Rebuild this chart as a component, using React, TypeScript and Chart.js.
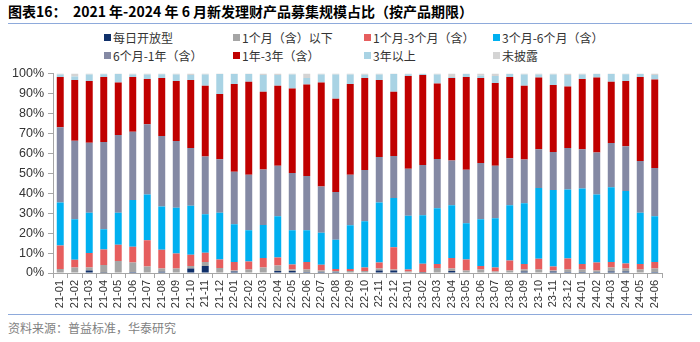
import React, { useEffect, useRef } from "react";
import { Chart, registerables } from "chart.js";

Chart.register(...registerables);

const categories = [
  "21-01", "21-02", "21-03", "21-04", "21-05", "21-06", "21-07", "21-08", "21-09", "21-10", "21-11", "21-12",
  "22-01", "22-02", "22-03", "22-04", "22-05", "22-06", "22-07", "22-08", "22-09", "22-10", "22-11", "22-12",
  "23-01", "23-02", "23-03", "23-04", "23-05", "23-06", "23-07", "23-08", "23-09", "23-10", "23-11", "23-12",
  "24-01", "24-02", "24-03", "24-04", "24-05", "24-06",
];

const seriesNames = [
  "每日开放型",
  "1个月（含）以下",
  "1个月-3个月（含）",
  "3个月-6个月（含）",
  "6个月-1年（含）",
  "1年-3年（含）",
  "3年以上",
  "未披露",
];

const dailyOpen = [
  0.3, 0.2, 1.3, 0.1, 0.3, 0.5, 0.2, 0.6, 0.3, 2.2, 3.5, 0.3,
  0.8, 0.3, 0.3, 1.0, 1.0, 0.5, 0.5, 0.5, 0.3, 0.3, 1.2, 1.2,
  0.2, 0.1, 0.3, 1.0, 0.3, 0.3, 0.2, 0.3, 0.7, 0.3, 0.7, 0.5,
  0.5, 0.5, 0.8, 0.8, 0.3, 0.5,
];
const upTo1M = [
  1.7, 2.5, 1.5, 3.9, 5.7, 4.8, 3.1, 1.7, 2.0, 1.3, 2.0, 2.2,
  0.5, 1.4, 2.5, 2.8, 0.8, 1.2, 0.8, 0.5, 0.7, 0.7, 1.0, 0.5,
  0.5, 0.4, 2.2, 1.3, 1.0, 1.4, 0.5, 1.0, 1.0, 1.4, 0.6, 1.2,
  1.3, 0.8, 1.9, 1.4, 1.5, 1.8,
];
const m1to3 = [
  11.8, 3.9, 7.2, 7.8, 8.1, 7.8, 13.1, 9.3, 7.5, 5.6, 4.6, 4.3,
  4.2, 4.1, 4.7, 4.0, 2.5, 3.8, 2.8, 1.0, 1.0, 1.8, 3.1, 11.2,
  1.0, 4.1, 2.0, 5.2, 5.5, 1.8, 2.1, 5.0, 2.8, 5.4, 2.0, 5.6,
  2.7, 4.0, 2.8, 2.6, 2.7, 3.2,
];
const m3to6 = [
  21.5, 20.4, 20.2, 10.1, 16.1, 23.5, 22.9, 21.7, 22.9, 24.6, 19.4, 23.4,
  18.9, 15.6, 16.5, 20.6, 17.1, 15.9, 16.1, 14.7, 21.9, 23.1, 30.0, 24.7,
  27.0, 24.3, 28.0, 26.5, 18.1, 23.5, 24.6, 27.7, 30.5, 35.5, 38.3, 34.5,
  37.8, 34.0, 37.5, 36.3, 25.7, 22.9,
];
const m6to1Y = [
  37.7, 39.3, 35.1, 43.8, 39.0, 34.2, 35.3, 35.4, 33.5, 29.0, 28.9, 26.8,
  26.3, 27.9, 27.9, 25.3, 28.7, 27.2, 23.1, 23.9, 25.4, 25.7, 22.9, 21.1,
  23.5, 25.2, 24.7, 22.4, 26.8, 28.1, 26.3, 23.5, 21.9, 19.4, 19.1, 20.9,
  19.7, 21.1, 22.2, 22.4, 25.9, 24.2,
];
const y1to3 = [
  25.3, 30.4, 31.0, 32.6, 26.3, 27.5, 22.7, 29.1, 30.0, 34.0, 35.5, 32.7,
  44.0, 46.6, 39.0, 40.2, 42.4, 45.9, 52.2, 46.8, 45.4, 46.2, 38.5, 32.2,
  46.6, 45.1, 37.8, 41.4, 46.5, 42.7, 41.5, 40.8, 37.0, 36.0, 33.5, 30.8,
  35.3, 37.6, 30.7, 32.8, 42.2, 44.4,
];
const over3Y = [
  1.2, 1.8, 3.2, 1.3, 4.2, 1.2, 2.2, 1.8, 3.3, 2.5, 5.6, 10.0,
  5.0, 3.9, 8.3, 5.4, 7.0, 3.3, 4.0, 12.1, 4.8, 1.6, 2.8, 8.8,
  0.8, 0.5, 4.5, 0.5, 1.5, 1.2, 3.6, 1.4, 5.6, 1.5, 5.3, 5.7,
  2.2, 1.7, 3.8, 3.3, 1.4, 2.2,
];
const undisclosed = [
  0.5, 1.5, 0.5, 0.4, 0.3, 0.5, 0.5, 0.4, 0.5, 0.8, 0.5, 0.3,
  0.3, 0.2, 0.8, 0.7, 0.5, 2.2, 0.5, 0.5, 0.5, 0.6, 0.5, 0.3,
  0.4, 0.3, 0.5, 1.7, 0.3, 1.0, 1.2, 0.3, 0.5, 0.5, 0.5, 0.8,
  0.5, 0.3, 0.3, 0.4, 0.3, 0.8,
];

const seriesValues = [dailyOpen, upTo1M, m1to3, m3to6, m6to1Y, y1to3, over3Y, undisclosed];

const seriesColors = [
  "#10306a",
  "#a5a5a5",
  "#e65e5e",
  "#00b0f0",
  "#8489a4",
  "#c00000",
  "#a9d3e4",
  "#d4d4d4",
];

const yTicks = [0, 10, 20, 30, 40, 50, 60, 70, 80, 90, 100];

const CJK = '"Noto Sans CJK SC", "Noto Sans", sans-serif';
const LATIN = '"Liberation Sans", Arial, sans-serif';

export default function App() {
  const canvasRef = useRef<HTMLCanvasElement | null>(null);

  useEffect(() => {
    const canvas = canvasRef.current;
    if (!canvas) return;
    const chart = new Chart(canvas, {
      type: "bar",
      data: {
        labels: categories,
        datasets: seriesNames.map((name, i) => ({
          label: name,
          data: seriesValues[i],
          backgroundColor: seriesColors[i],
          borderWidth: 0,
          barPercentage: 0.48,
          categoryPercentage: 1,
        })),
      },
      options: {
        animation: false,
        responsive: false,
        maintainAspectRatio: false,
        layout: { padding: { left: 0, right: 38, top: 10, bottom: 0 } },
        plugins: {
          legend: { display: false },
          tooltip: { enabled: false },
        },
        scales: {
          x: {
            stacked: true,
            grid: {
              display: true,
              drawOnChartArea: false,
              drawTicks: true,
              tickLength: 5,
              color: "#a6a6a6",
              offset: true,
            },
            border: { display: true, color: "#a6a6a6" },
            ticks: {
              autoSkip: false,
              minRotation: 90,
              maxRotation: 90,
              padding: 2,
              color: "#333333",
              font: { size: 11, family: LATIN },
            },
            afterFit: (s: any) => {
              s.height = 39;
            },
          },
          y: {
            stacked: true,
            min: 0,
            max: 100,
            afterBuildTicks: (s: any) => {
              s.ticks = yTicks.map((v) => ({ value: v }));
            },
            ticks: {
              callback: (v: any) => `${v}%`,
              padding: 4,
              color: "#333333",
              font: { size: 12.5, family: LATIN },
            },
            grid: {
              display: true,
              drawOnChartArea: false,
              drawTicks: true,
              tickLength: 5,
              color: "#a6a6a6",
            },
            border: { display: true, color: "#a6a6a6" },
            afterFit: (s: any) => {
              s.width = 53;
            },
          },
        },
      },
    });
    return () => chart.destroy();
  }, []);

  const legendCols = [104, 233, 364, 493];
  const legendRows = [37, 55];

  return (
    <div
      style={{
        position: "absolute",
        left: 0,
        top: 0,
        width: 700,
        height: 342,
        background: "#ffffff",
        overflow: "hidden",
      }}
    >
      <div
        style={{
          position: "absolute",
          left: 8,
          top: 2,
          fontFamily: CJK,
          fontWeight: 700,
          fontSize: 14,
          lineHeight: "18px",
          color: "#000",
          whiteSpace: "nowrap",
        }}
      >
        图表16：&nbsp;&nbsp;2021 年-2024 年 6 月新发理财产品募集规模占比（按产品期限）
      </div>
      <div
        style={{
          position: "absolute",
          left: 8,
          top: 23,
          width: 684,
          height: 1,
          background: "#8eaadb",
        }}
      />
      {seriesNames.map((name, i) => {
        const col = i % 4;
        const row = Math.floor(i / 4);
        return (
          <div
            key={name}
            style={{
              position: "absolute",
              left: legendCols[col],
              top: legendRows[row] - 9,
              height: 18,
              display: "flex",
              alignItems: "center",
              fontFamily: CJK,
              fontSize: 12,
              color: "#333",
              whiteSpace: "nowrap",
            }}
          >
            <span
              style={{
                display: "inline-block",
                width: 7,
                height: 7,
                background: seriesColors[i],
                marginRight: 2,
              }}
            />
            <span>{name}</span>
          </div>
        );
      })}
      <canvas
        ref={canvasRef}
        width={700}
        height={250}
        style={{ position: "absolute", left: 0, top: 62, width: 700, height: 250 }}
      />
      <div
        style={{
          position: "absolute",
          left: 8,
          top: 314,
          width: 684,
          height: 1,
          background: "#8eaadb",
        }}
      />
      <div
        style={{
          position: "absolute",
          left: 8,
          top: 320,
          fontFamily: CJK,
          fontSize: 12,
          lineHeight: "16px",
          color: "#7f7f7f",
          whiteSpace: "nowrap",
        }}
      >
        资料来源：普益标准，华泰研究
      </div>
    </div>
  );
}
